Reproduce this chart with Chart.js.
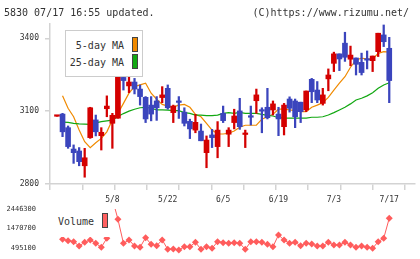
<!DOCTYPE html>
<html>
<head>
<meta charset="utf-8">
<script src="https://cdn.jsdelivr.net/npm/chart.js@4.4.1/dist/chart.umd.min.js"></script>
<style>
  body { margin: 0; background: #fff; }
  #wrap { position: relative; width: 420px; height: 259px; overflow: hidden; font-family: "DejaVu Sans Mono", monospace; color: #333; }
  canvas { position: absolute; left: 0; }
  #main { top: 0; }
  #vol { top: 205px; }
  .txt { position: absolute; font-size: 10px; line-height: 12px; white-space: nowrap; }
  .box { position: absolute; background: #fff; }
  .sw { position: absolute; width: 4px; height: 13px; border: 1px solid #444; }
</style>
</head>
<body>
<div id="wrap">
  <canvas id="main" width="420" height="212"></canvas>
  <canvas id="vol" width="420" height="54"></canvas>

  <div class="txt" style="left:4px;top:7px">5830 07/17 16:55 updated.</div>
  <div class="txt" style="right:11px;top:7px">(C)https://www.rizumu.net/</div>

  <div class="box" style="left:65px;top:30px;width:76px;height:45px;border:1px solid #ccc">
    <div class="txt" style="right:18px;top:9px">5-day MA</div>
    <div class="txt" style="right:18px;top:26px">25-day MA</div>
    <div class="sw" style="left:66px;top:6px;background:#f08a00"></div>
    <div class="sw" style="left:66px;top:23px;background:#12a812"></div>
  </div>

  <div class="box" style="left:52px;top:205px;width:62px;height:32px">
    <div class="txt" style="left:6px;top:11px">Volume</div>
    <div class="sw" style="left:50px;top:8px;background:#ff6060"></div>
  </div>
</div>

<script>
// trading days shown (4/21 .. 7/17)
const dates = ['4/21','4/22','4/23','4/24','4/25','4/28','4/30','5/1','5/2','5/7',
  '5/8','5/9','5/12','5/13','5/14','5/15','5/16','5/19','5/20','5/21',
  '5/22','5/23','5/26','5/27','5/28','5/29','5/30','6/2','6/3','6/4',
  '6/5','6/6','6/9','6/10','6/11','6/12','6/13','6/16','6/17','6/18',
  '6/19','6/20','6/23','6/24','6/25','6/26','6/27','6/30','7/1','7/2',
  '7/3','7/4','7/7','7/8','7/9','7/10','7/11','7/14','7/15','7/16','7/17'];
const labelIdx = [10, 20, 30, 40, 50, 60];

const opens  = [3079,3088,3032,2944,2936,2875,2991,3064,2999,3110,3050,3071,3239,3204,3220,3191,3157,3125,3142,3156,
  3194,3094,3142,3096,3058,3022,3018,2929,3002,2954,3091,3005,3053,3101,3004,3077,3143,3102,3116,3105,
  3088,3036,3150,3142,3137,3105,3231,3187,3132,3233,3297,3336,3380,3314,3319,3301,3314,3308,3345,3414,3359];
const highs  = [3081,3091,3039,2961,2950,2947,3116,3084,3032,3163,3091,3297,3280,3256,3235,3208,3160,3160,3160,3201,
  3208,3125,3160,3114,3067,3087,3047,2998,3025,3057,3121,3032,3108,3153,3022,3121,3191,3114,3194,3142,
  3116,3132,3159,3150,3137,3183,3235,3222,3194,3274,3343,3336,3425,3368,3319,3339,3348,3327,3421,3455,3404];
const lows   = [3079,2995,2947,2885,2875,2828,2988,2998,2940,3077,2947,3071,3187,3176,3171,3125,3053,3060,3062,3135,
  3108,3053,3070,3039,2987,3011,2978,2867,2950,2908,3053,2954,3027,3025,2950,3043,3091,3011,3068,3084,
  2999,3002,3096,3032,3053,3098,3135,3135,3125,3184,3263,3267,3305,3287,3249,3249,3274,3263,3325,3366,3135];
const closes = [3081,3015,2954,2929,2892,2908,3114,3015,3013,3121,3083,3260,3226,3220,3191,3160,3068,3088,3114,3167,
  3114,3121,3136,3050,3027,3054,2978,2981,2991,3022,3061,3022,3080,3036,3006,3075,3167,3100,3073,3130,
  3068,3125,3112,3077,3098,3183,3180,3146,3167,3249,3336,3315,3322,3331,3293,3259,3310,3327,3421,3386,3226];

const ma5  = [null,3163,3112,3077,3022,2974,2950,2970,2988,3015,3064,3091,3132,3174,3201,3208,3215,3174,3149,3128,
  3121,3118,3125,3128,3116,3087,3077,3050,3022,3006,3006,3009,3018,3034,3042,3042,3042,3067,3077,3087,
  3108,3108,3105,3102,3098,3098,3116,3125,3135,3157,3187,3215,3242,3281,3311,3318,3314,3314,3338,3345,3343];
const ma25 = [null,3055,3054,3050,3048,3047,3046,3052,3057,3060,3063,3078,3090,3100,3108,3114,3116,3112,3105,3105,
  3104,3102,3102,3094,3091,3084,3084,3082,3082,3084,3091,3094,3091,3095,3091,3091,3091,3087,3083,3080,
  3073,3071,3071,3071,3071,3071,3075,3075,3077,3084,3094,3105,3116,3130,3146,3153,3163,3176,3194,3208,3217];

const volumes = [null,943000,873000,824000,610000,794000,908000,744000,545000,993000,2964000,1939000,744000,908000,610000,545000,1023000,694000,625000,908000,
  445000,460000,411000,575000,575000,794000,445000,575000,495000,824000,774000,744000,774000,744000,445000,824000,824000,794000,694000,575000,
  1157000,908000,744000,794000,625000,744000,709000,610000,610000,794000,659000,659000,794000,659000,545000,610000,545000,495000,824000,992000,1988000];

const yTicks = [2800, 3100, 3400];
const volTicks = [495100, 1470700, 2446300];

const RED = '#d40000', BLUE = '#3b45bd', ORANGE = '#f08a00', GREEN = '#12a812';
const AXIS = '#d3d3d3', TXT = '#333', VOLC = '#ff5c5c';
const FONT = 'DejaVu Sans Mono';
const X_MIN = -1.264, X_MAX = 64.65;

const candleColors = closes.map((c, i) => c >= opens[i] ? RED : BLUE);
const pts = arr => arr.map((v, i) => ({ x: i, y: v }));
const noPad = s => { s.paddingTop = 0; s.paddingBottom = 0; s.paddingLeft = 0; s.paddingRight = 0; };

new Chart(document.getElementById('main'), {
  type: 'bar',
  data: {
    datasets: [
      { type: 'line', label: '5-day MA', data: pts(ma5), borderColor: ORANGE, borderWidth: 1.2, pointRadius: 0, order: 4 },
      { type: 'line', label: '25-day MA', data: pts(ma25), borderColor: GREEN, borderWidth: 1.2, pointRadius: 0, order: 3 },
      { label: 'wick', data: highs.map((h, i) => ({ x: i, y: [lows[i], h] })), backgroundColor: candleColors,
        barThickness: 1.6, grouped: false, order: 2 },
      { label: 'body', data: opens.map((o, i) => ({ x: i, y: [o, closes[i]] })), backgroundColor: candleColors,
        barThickness: 5, minBarLength: 1.5, grouped: false, order: 1 }
    ]
  },
  options: {
    animation: false, responsive: false, events: [],
    layout: { padding: { top: 24, right: 5, left: 0, bottom: 0 } },
    plugins: { legend: { display: false }, tooltip: { enabled: false } },
    scales: {
      x: {
        type: 'linear', min: X_MIN, max: X_MAX, offset: false, position: 'bottom', weight: 1,
        grid: { display: false, offset: false }, border: { display: false },
        afterBuildTicks: s => { s.ticks = labelIdx.map(v => ({ value: v })); },
        ticks: { autoSkip: false, maxRotation: 0, padding: 3.5, color: TXT, font: { family: FONT, size: 8 },
          callback: v => dates[v] },
        afterFit: s => { noPad(s); s.height = 28; }
      },
      xt: {
        type: 'linear', min: 0, max: 365 / 32.27, offset: false, position: 'bottom', weight: 0,
        grid: { drawOnChartArea: false, offset: false, tickLength: 6, color: AXIS, lineWidth: 1.5 },
        border: { color: AXIS, width: 1.5 },
        ticks: { display: false },
        afterBuildTicks: s => { s.ticks = [0,1,2,3,4,5,6,7,8,9,10,11].map(v => ({ value: v })); },
        afterFit: s => { noPad(s); s.height = 0; }
      },
      y: {
        type: 'linear', min: 2800, max: 3459, position: 'left',
        afterFit: s => { noPad(s); s.width = 50; },
        afterBuildTicks: s => { s.ticks = yTicks.map(v => ({ value: v })); },
        grid: { drawOnChartArea: false, tickLength: 5, color: AXIS, lineWidth: 1.5 },
        border: { color: AXIS, width: 1.5 },
        ticks: { padding: 6, color: TXT, font: { family: FONT, size: 8 }, callback: v => String(v) }
      }
    }
  }
});

new Chart(document.getElementById('vol'), {
  type: 'line',
  data: {
    datasets: [{
      label: 'Volume', data: pts(volumes), borderColor: VOLC, backgroundColor: VOLC, borderWidth: 1,
      pointStyle: 'rectRot', pointRadius: 3.5, pointBorderWidth: 0,
      clip: { left: 6, right: 6, top: 0, bottom: 6 }
    }]
  },
  options: {
    animation: false, responsive: false, events: [],
    layout: { padding: { top: 4, right: 5, left: 0, bottom: 7.7 } },
    plugins: { legend: { display: false }, tooltip: { enabled: false } },
    scales: {
      x: { type: 'linear', min: X_MIN, max: X_MAX, display: false },
      y: {
        type: 'linear', min: 345800, max: 2446300,
        afterFit: s => { noPad(s); s.width = 50; },
        afterBuildTicks: s => { s.ticks = volTicks.map(v => ({ value: v })); },
        grid: { display: false }, border: { display: false },
        ticks: { padding: 6, color: TXT, font: { family: FONT, size: 7 }, callback: v => String(v) }
      }
    }
  }
});
</script>
</body>
</html>
